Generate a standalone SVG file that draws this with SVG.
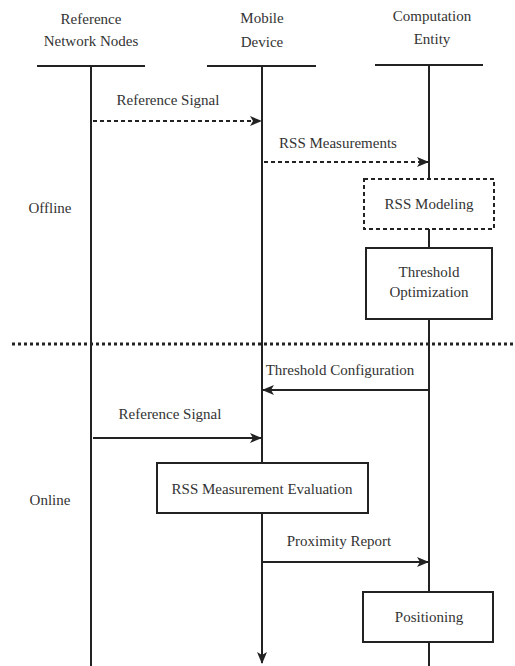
<svg xmlns="http://www.w3.org/2000/svg" width="515" height="666" viewBox="0 0 515 666">
<style>
text{font-family:"Liberation Serif","Times New Roman",serif;font-size:15px;fill:#333;text-anchor:middle}
.l{stroke:#222;stroke-width:2;fill:none}
.d{stroke:#222;stroke-width:2;fill:none;stroke-dasharray:4,3}
.box{fill:#fff;stroke:#222;stroke-width:2}
.dbox{fill:#fff;stroke:#222;stroke-width:2;stroke-dasharray:4,3}
</style>
<defs>
<marker id="ah" viewBox="0 0 12 10" refX="11" refY="5" markerWidth="12" markerHeight="10" markerUnits="userSpaceOnUse" orient="auto">
<path d="M0,0 L12,5 L0,10 L3,5 z" fill="#222"/>
</marker>
</defs>
<rect width="515" height="666" fill="#fff"/>
<g id="ref-nodes">
<text x="91" y="24">Reference</text>
<text x="91" y="46">Network Nodes</text>
<line class="l" x1="37" y1="66" x2="145" y2="66"/>
</g>
<g id="mobile">
<text x="262" y="23">Mobile</text>
<text x="262" y="47">Device</text>
<line class="l" x1="207" y1="66" x2="316" y2="66"/>
</g>
<g id="computation">
<text x="432" y="21">Computation</text>
<text x="432" y="44">Entity</text>
<line class="l" x1="375" y1="65" x2="483" y2="65"/>
</g>
<g id="phases">
<text x="50" y="213">Offline</text>
<text x="50" y="505">Online</text>
<line x1="12" y1="344" x2="515" y2="344" stroke="#222" stroke-width="3" stroke-dasharray="3,3"/>
</g>
<g id="connectors">
<line class="l" x1="91" y1="66" x2="91" y2="666"/>
<line class="l" x1="262" y1="66" x2="262" y2="463"/>
<line class="l" x1="262" y1="513" x2="262" y2="663" marker-end="url(#ah)"/>
<line class="l" x1="429" y1="65" x2="429" y2="179"/>
<line class="l" x1="429" y1="229" x2="429" y2="248"/>
<line class="l" x1="429" y1="319" x2="429" y2="592"/>
<line class="l" x1="429" y1="642" x2="429" y2="666"/>
<line class="d" x1="93" y1="121" x2="261" y2="121" marker-end="url(#ah)"/>
<text x="168" y="105">Reference Signal</text>
<line class="d" x1="264" y1="162" x2="428" y2="162" marker-end="url(#ah)"/>
<text x="338" y="148">RSS Measurements</text>
<line class="l" x1="428" y1="390" x2="263" y2="390" marker-end="url(#ah)"/>
<text x="340" y="375">Threshold Configuration</text>
<line class="l" x1="93" y1="438" x2="261" y2="438" marker-end="url(#ah)"/>
<text x="170" y="419">Reference Signal</text>
<line class="l" x1="263" y1="562" x2="428" y2="562" marker-end="url(#ah)"/>
<text x="339" y="546">Proximity Report</text>
</g>
<g id="rss-modeling">
<rect class="dbox" x="364" y="179" width="130" height="50"/>
<text x="429" y="209">RSS Modeling</text>
</g>
<g id="threshold-optimization">
<rect class="box" x="366" y="248" width="126" height="71"/>
<text x="429" y="277">Threshold</text>
<text x="429" y="297">Optimization</text>
</g>
<g id="rss-evaluation">
<rect class="box" x="157" y="463" width="211" height="50"/>
<text x="262" y="494">RSS Measurement Evaluation</text>
</g>
<g id="positioning">
<rect class="box" x="363" y="592" width="130" height="50"/>
<text x="429" y="622">Positioning</text>
</g>
</svg>
